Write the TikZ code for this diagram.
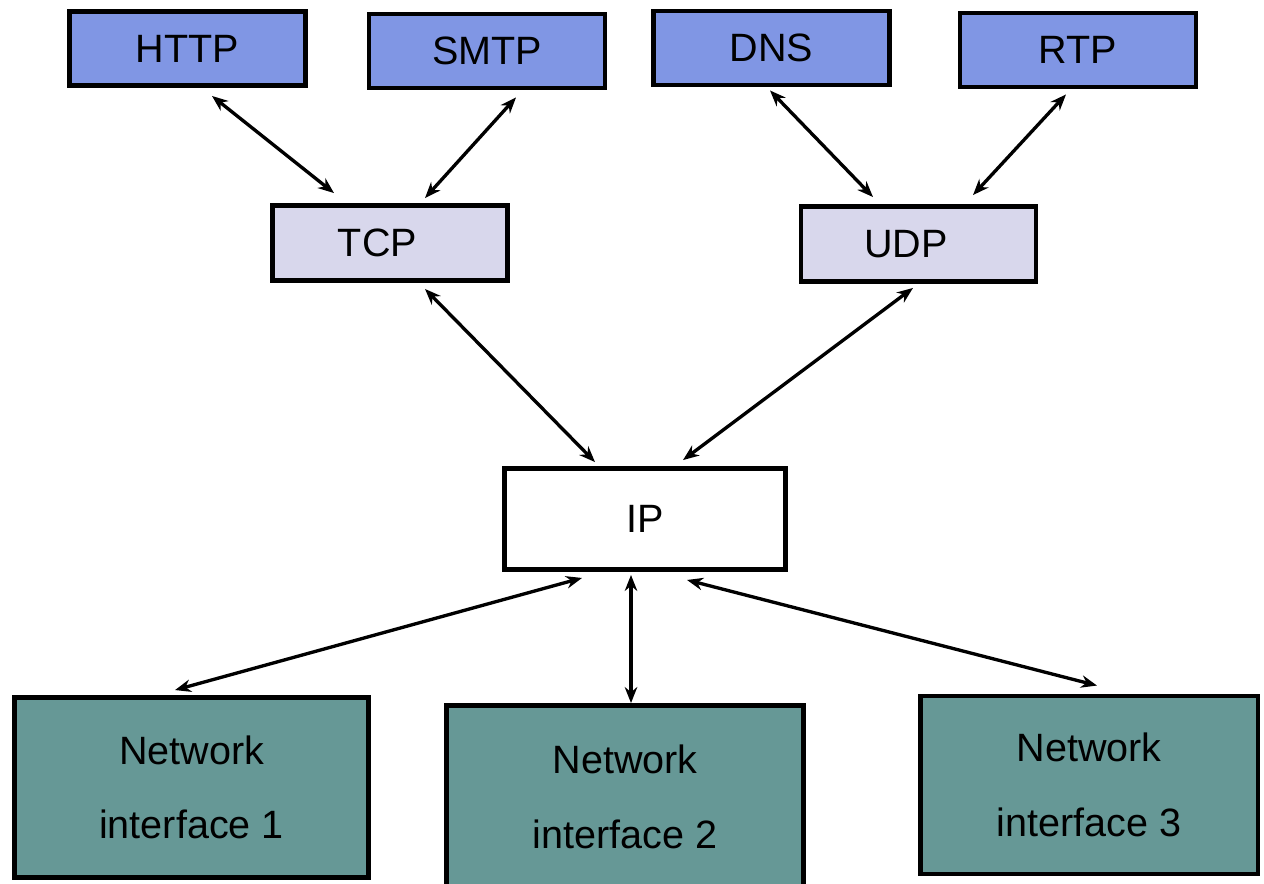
\documentclass[tikz,border=0pt]{standalone}
\usepackage{fontspec}
\setmainfont{Liberation Sans}
\usetikzlibrary{arrows.meta,calc}

\definecolor{appblue}{RGB}{128,150,228}
\definecolor{translav}{RGB}{216,215,236}
\definecolor{nicteal}{RGB}{102,152,150}

\tikzset{
  layerbox/.style={draw=black, line width=2.8pt, inner sep=0pt, align=center,
    font=\fontsize{22.5}{42.5}\selectfont},
  appbox/.style={layerbox, fill=appblue, minimum width=4.72cm, minimum height=1.48cm},
  transbox/.style={layerbox, fill=translav, minimum width=4.7cm, minimum height=1.5cm},
  ipbox/.style={layerbox, fill=white, minimum width=5.62cm, minimum height=2.02cm},
  nicbox/.style={layerbox, fill=nicteal, minimum height=3.6cm},
  link/.style={{Stealth[length=0.32cm,width=0.25cm]}-{Stealth[length=0.32cm,width=0.25cm]}, line width=1.9pt}
}

\begin{document}
\begin{tikzpicture}[x=0.02cm, y=-0.02cm]
  \useasboundingbox (0, 0) rectangle (1264, 883);
  % application layer
  \node [appbox] (http) at (187.5, 48.5) {HTTP};
  \node [appbox] (smtp) at (487, 51) {SMTP};
  \node [appbox] (dns) at (771.5, 48) {DNS};
  \node [appbox] (rtp) at (1078, 50) {RTP};
  % transport layer
  \node [transbox] (tcp) at (390, 243) {\hspace*{-0.5cm}TCP};
  \node [transbox] (udp) at (918.5, 244) {\hspace*{-0.5cm}UDP};
  % network layer
  \node [ipbox] (ip) at (645, 519) {IP};
  % interfaces
  \node [nicbox, minimum width=7.08cm] (nic1) at (191.5, 787.5) {Network\\interface 1};
  \node [nicbox, minimum width=7.14cm, minimum height=3.66cm] (nic2) at (625, 797) {Network\\interface 2};
  \node [nicbox, minimum width=6.76cm, minimum height=3.56cm] (nic3) at (1089, 785) {Network\\interface 3};

  \draw [link] ($(http.south)+(24.5, 8)$) -- ($(tcp.north)+(-56, -10)$);
  \draw [link] ($(smtp.south)+(29, 7)$) -- ($(tcp.north)+(35, -5)$);
  \draw [link] ($(dns.south)+(-1.5, 3)$) -- ($(udp.north)+(-45.5, -7)$);
  \draw [link] ($(rtp.south)+(-12, 5)$) -- ($(udp.north)+(54.5, -9)$);
  \draw [link] ($(tcp.south)+(35, 6)$) -- ($(ip.north)+(-50, -4)$);
  \draw [link] ($(udp.south)+(-5.5, 4)$) -- ($(ip.north)+(38, -6)$);
  \draw [link] ($(ip.south)+(-63, 6)$) -- ($(nic1.north)+(-16.5, -5)$);
  \draw [link] ($(ip.south)+(-14, 3)$) -- ($(nic2.north)+(6, 0)$);
  \draw [link] ($(ip.south)+(42, 8)$) -- ($(nic3.north)+(8, -8)$);
\end{tikzpicture}
\end{document}
